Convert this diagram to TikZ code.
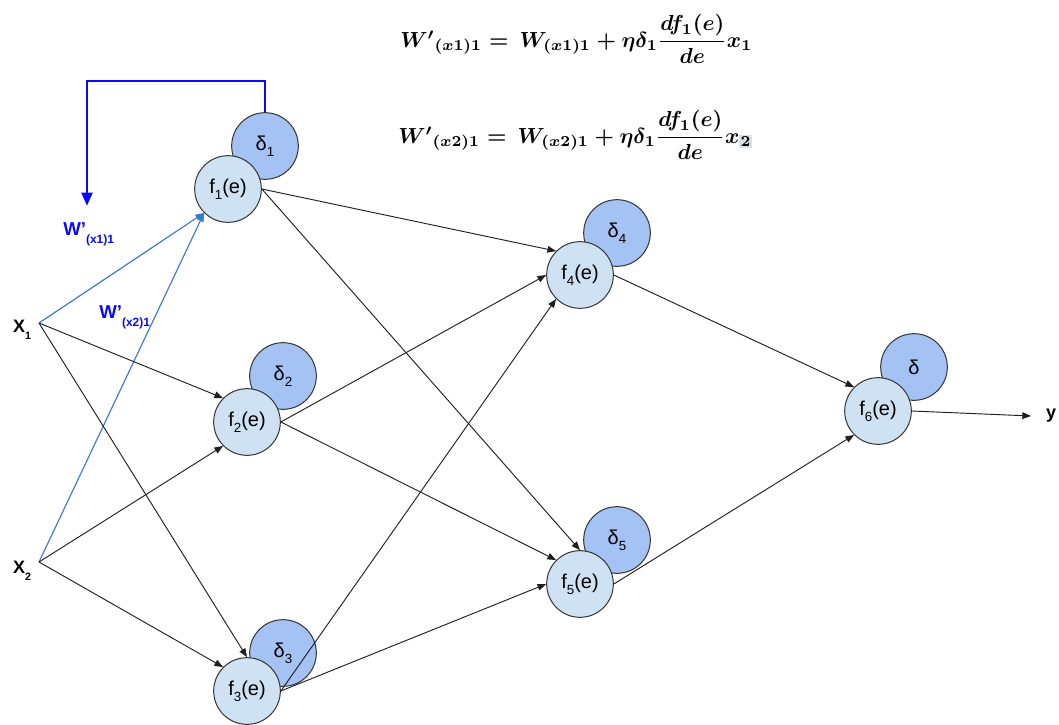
\documentclass[tikz,border=0pt]{standalone}
\usepackage{amsmath}
\usepackage{fontspec}
\usetikzlibrary{arrows.meta}
\newfontfamily\arial{Liberation Sans}
\definecolor{fcol}{HTML}{CFE2F3}
\definecolor{dcol}{HTML}{A4C2F4}
\definecolor{inblue}{HTML}{3C78D8}
\definecolor{loopblue}{RGB}{10,10,250}
\definecolor{hlgray}{RGB}{218,224,232}
% lowered subscript in the style of the node labels
\newcommand{\lsub}[1]{\raisebox{-0.55ex}{\fontsize{10}{12}\selectfont #1}}
\begin{document}
\begin{tikzpicture}[x=0.75pt,y=-0.75pt,
  fnode/.style={circle, draw=black!80, line width=0.75pt, fill=fcol,
    minimum size=50pt, inner sep=0pt, font=\arial\fontsize{15}{17}\selectfont},
  dnode/.style={fnode, fill=dcol},
  conn/.style={draw=black!88, line width=0.7pt, -{Triangle[length=6.5pt,width=5pt]}},
  inconn/.style={conn, draw=inblue, fill=inblue, line width=0.85pt},
  loopconn/.style={draw=loopblue, line width=2.2pt, -{Triangle[length=10pt,width=8pt]}},
  inlabel/.style={font=\arial\bfseries\fontsize{13.5}{15}\selectfont, inner sep=0pt},
  wlabel/.style={font=\arial\bfseries\fontsize{14}{16}\selectfont, text=loopblue, inner sep=0pt, anchor=west},
  formula/.style={inner sep=0pt, anchor=west}
]
\useasboundingbox (0,0) rectangle (1059,724);

% delta circles sit behind the neuron circles
\node[dnode] (d1) at (265,146) {δ\lsub{1}};
\node[dnode] (d2) at (283,376) {δ\lsub{2}};
\node[dnode] (d3) at (283,653) {δ\lsub{3}};
\node[dnode] (d4) at (617,233) {δ\lsub{4}};
\node[dnode] (d5) at (617,540) {δ\lsub{5}};
\node[dnode] (d6) at (914,367) {δ};

\node[fnode] (f1) at (228,189) {f\lsub{1}(e)};
\node[fnode] (f2) at (247,422) {f\lsub{2}(e)};
\node[fnode] (f3) at (247,691) {f\lsub{3}(e)};
\node[fnode] (f4) at (580,275) {f\lsub{4}(e)};
\node[fnode] (f5) at (580,584) {f\lsub{5}(e)};
\node[fnode] (f6) at (878,411) {f\lsub{6}(e)};

% inputs
\coordinate (x1) at (39,323);
\coordinate (x2) at (39,562);
\node[inlabel] (lx1) at (22,330) {X\raisebox{-0.7ex}{\fontsize{8}{9}\selectfont 1}};
\node[inlabel] (lx2) at (22,571) {X\raisebox{-0.7ex}{\fontsize{8}{9}\selectfont 2}};

% output
\coordinate (yend) at (1031,416);
\node[inlabel] (ly) at (1051,416) {y};

% input connections
\draw[inconn] (x1) -- (f1.225);
\draw[inconn] (x2) -- (f1.225);
\draw[conn] (x1) -- (f2.135);
\draw[conn] (x1) -- (f3.north);
\draw[conn] (x2) -- (f2.225);
\draw[conn] (x2) -- (f3.135);

% hidden connections
\draw[conn] (f1.east) -- (f4.135);
\draw[conn] (f1.east) -- (f5.north);
\draw[conn] (f2.east) -- (f4.west);
\draw[conn] (f2.east) -- (f5.135);
\draw[conn] (f3.east) -- (f4.225);
\draw[conn] (f3.east) -- (f5.west);
\draw[conn] (f4.east) -- (f6.135);
\draw[conn] (f5.east) -- (f6.225);
\draw[conn] (f6.east) -- (yend);

% weight update feedback
\coordinate (wend) at (87,206);
\draw[loopconn] (d1.north) |- (87,81) -- (wend);
\node[wlabel] (w1) at (63,234) {W’\raisebox{-0.8ex}{\fontsize{9}{10}\selectfont (x1)1}};
\node[wlabel] (w2) at (99,317) {W’\raisebox{-0.8ex}{\fontsize{9}{10}\selectfont (x2)1}};

% update rules
\node[formula] (eq1) at (400,39) {\resizebox{264pt}{!}{\boldmath$\mathstrut{W'}_{(x1)1} = \,W_{(x1)1} + \eta\delta_1\dfrac{df_1(e)}{de}x_1$}};
\node[formula] (eq2) at (398,135) {\resizebox{266pt}{!}{\boldmath$\mathstrut{W'}_{(x2)1} = \,W_{(x2)1} + \eta\delta_1\dfrac{df_1(e)}{de}x_{\setlength{\fboxsep}{0.6pt}\colorbox{hlgray}{$\scriptstyle 2$}}$}};
\end{tikzpicture}
\end{document}
